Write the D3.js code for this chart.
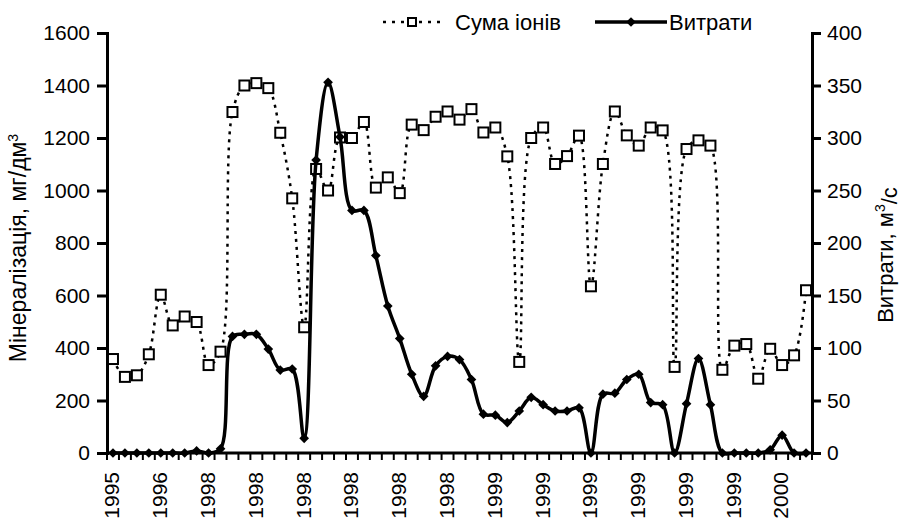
<!DOCTYPE html>
<html>
<head>
<meta charset="utf-8">
<script src="https://cdn.jsdelivr.net/npm/d3@7"></script>
<style>
  body { margin: 0; background: #fff; }
  text { font-family: "Liberation Sans", Arial, sans-serif; fill: #000; }
</style>
</head>
<body>
<script>
const tickLabels = ["1995", "1996", "1998", "1998", "1998", "1998", "1998", "1998",
                    "1999", "1999", "1999", "1999", "1999", "1999", "2000"];
const labelStep = 4;

const ions = [358, 290, 296, 376, 603, 486, 520, 499, 335, 386,
              1299, 1400, 1409, 1390, 1220, 970, 479, 1082, 1000,
              1202, 1200, 1261, 1011, 1050, 990, 1251, 1230, 1281, 1301, 1270,
              1310, 1221, 1240, 1130, 347, 1200, 1240, 1101, 1131, 1209,
              635, 1101, 1301, 1210, 1171, 1240, 1229, 328, 1158, 1191,
              1171, 317, 409, 415, 283, 397, 335, 372, 620];

const flow = [0, 0, 0, 0, 0, 0, 0, 2, 0, 4,
              111, 113, 113, 99, 79, 80, 14, 279, 353,
              301, 231, 231, 188, 140, 109, 75, 54, 83, 92, 89,
              70, 37, 36, 29, 40, 53, 46, 40, 40, 43,
              0, 56, 57, 70, 75, 48, 46, 0, 47, 90,
              46, 0, 0, 0, 0, 3, 17, 0, 0];

const leftTicks = d3.range(0, 1601, 200);
const rightTicks = d3.range(0, 401, 50);

const width = 903, height = 519;
const margin = {top: 33, right: 91, bottom: 66, left: 107};

let svg = d3.select("body").append("svg")
    .attr("width", width)
    .attr("height", height);

let x = d3.scaleBand()
    .domain(d3.range(ions.length))
    .range([margin.left, width - margin.right]);

let cx = i => x(i) + x.bandwidth() / 2;

let yL = d3.scaleLinear().domain([0, 1600]).range([height - margin.bottom, margin.top]);
let yR = d3.scaleLinear().domain([0, 400]).range([height - margin.bottom, margin.top]);

let fontSize = 21;

// left axis
let axL = svg.append("g")
    .attr("transform", `translate(${margin.left},0)`)
    .call(d3.axisLeft(yL).tickValues(leftTicks).tickFormat(d3.format("d")).tickSize(10).tickPadding(7));
axL.select(".domain").attr("stroke-width", 3);
axL.selectAll(".tick line").attr("stroke-width", 3);
axL.selectAll(".tick text").style("font-size", fontSize + "px");

// right axis
let axR = svg.append("g")
    .attr("transform", `translate(${width - margin.right},0)`)
    .call(d3.axisRight(yR).tickValues(rightTicks).tickFormat(d3.format("d")).tickSize(9).tickPadding(6));
axR.select(".domain").attr("stroke-width", 3);
axR.selectAll(".tick line").attr("stroke-width", 3);
axR.selectAll(".tick text").style("font-size", fontSize + "px");

// x axis
let y0 = height - margin.bottom;
svg.append("line")
    .attr("x1", margin.left).attr("x2", width - margin.right)
    .attr("y1", y0).attr("y2", y0)
    .attr("stroke", "#000").attr("stroke-width", 3);

svg.append("g").selectAll("line")
    .data(d3.range(ions.length + 1))
    .enter().append("line")
    .attr("x1", i => margin.left + i * x.step())
    .attr("x2", i => margin.left + i * x.step())
    .attr("y1", y0)
    .attr("y2", y0 + 7)
    .attr("stroke", "#000")
    .attr("stroke-width", 2);

svg.append("g").selectAll("text")
    .data(tickLabels)
    .enter().append("text")
    .attr("transform", (d, i) => `translate(${cx(i * labelStep) - 1},${y0 + 19}) rotate(-90)`)
    .attr("text-anchor", "end")
    .attr("dy", "0.35em")
    .style("font-size", fontSize + "px")
    .text(d => d);

// axis titles
let tl = svg.append("text")
    .attr("transform", `translate(26,248) rotate(-90)`)
    .attr("text-anchor", "middle")
    .style("font-size", "23px");
tl.append("tspan").text("Мінералізація, мг/дм");
tl.append("tspan").attr("dy", "-0.55em").style("font-size", "14px").text("3");

let tr = svg.append("text")
    .attr("transform", `translate(893,255) rotate(-90)`)
    .attr("text-anchor", "middle")
    .style("font-size", "22px");
tr.append("tspan").text("Витрати, м");
tr.append("tspan").attr("dy", "-0.55em").style("font-size", "14px").text("3");
tr.append("tspan").attr("dy", "0.55em").text("/с");

// series
let ionLine = d3.line()
    .x((d, i) => cx(i))
    .y(d => yL(d))
    .curve(d3.curveCatmullRom);

let flowLine = d3.line()
    .x((d, i) => cx(i))
    .y(d => yR(d))
    .curve(d3.curveCatmullRom);

svg.append("path")
    .datum(ions)
    .attr("d", ionLine)
    .attr("fill", "none")
    .attr("stroke", "#000")
    .attr("stroke-width", 2.5)
    .attr("stroke-dasharray", "3,5");

let sq = 10;
svg.append("g").selectAll("rect")
    .data(ions)
    .enter().append("rect")
    .attr("x", (d, i) => cx(i) - sq / 2)
    .attr("y", d => yL(d) - sq / 2)
    .attr("width", sq)
    .attr("height", sq)
    .attr("fill", "#fff")
    .attr("stroke", "#000")
    .attr("stroke-width", 2);

svg.append("path")
    .datum(flow)
    .attr("d", flowLine)
    .attr("fill", "none")
    .attr("stroke", "#000")
    .attr("stroke-width", 3.5);

let diamond = d3.symbol().type(d3.symbolDiamond2).size(60);
svg.append("g").selectAll("path")
    .data(flow)
    .enter().append("path")
    .attr("d", diamond)
    .attr("transform", (d, i) => `translate(${cx(i)},${yR(d)})`)
    .attr("fill", "#000");

// legend
let ly = 22;
let leg = svg.append("g");
leg.append("line")
    .attr("x1", 383).attr("x2", 441).attr("y1", ly).attr("y2", ly)
    .attr("stroke", "#000").attr("stroke-width", 2.5)
    .attr("stroke-dasharray", "3,6");
leg.append("rect")
    .attr("x", 412 - 4).attr("y", ly - 4)
    .attr("width", 8).attr("height", 8)
    .attr("fill", "#fff").attr("stroke", "#000").attr("stroke-width", 2);
leg.append("text")
    .attr("x", 455).attr("y", ly).attr("dy", "0.35em")
    .style("font-size", "22px")
    .text("Сума іонів");

leg.append("line")
    .attr("x1", 595).attr("x2", 667).attr("y1", ly).attr("y2", ly)
    .attr("stroke", "#000").attr("stroke-width", 3.5);
leg.append("path")
    .attr("d", diamond)
    .attr("transform", `translate(631,${ly})`)
    .attr("fill", "#000");
leg.append("text")
    .attr("x", 669).attr("y", ly).attr("dy", "0.35em")
    .style("font-size", "22px")
    .text("Витрати");
</script>
</body>
</html>
